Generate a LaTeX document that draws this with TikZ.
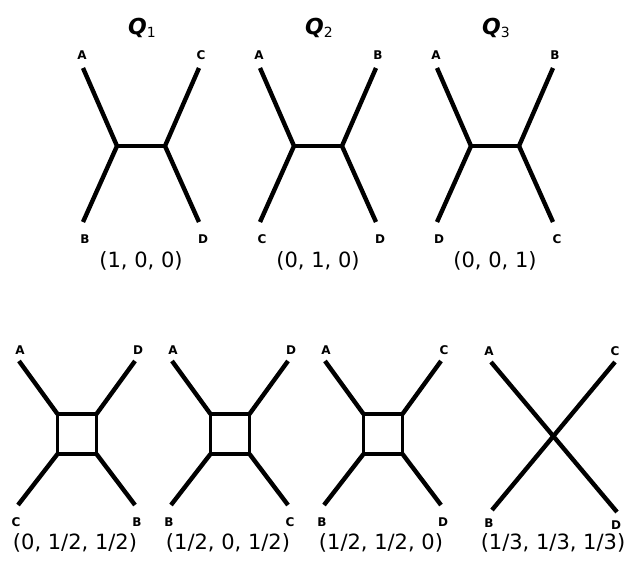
\documentclass[tikz,border=0pt]{standalone}
\usepackage{fontspec}
\setmainfont{DejaVu Sans}
\begin{document}
\begin{tikzpicture}[x=1pt,y=-1pt,
  edge/.style={line width=4.4pt},
  inedge/.style={line width=3.4pt},
  leaf/.style={font=\fontsize{12}{12}\selectfont\bfseries, inner sep=0pt},
  weight/.style={font=\fontsize{21}{21}\selectfont, inner sep=0pt},
  qtitle/.style={inner sep=0pt}]
\useasboundingbox (0,0) rectangle (634,560);

% three resolved quartet trees
\foreach \cx/\n/\tl/\tr/\bl/\br/\wt in {141/1/A/C/B/D/{(1, 0, 0)},
                                       318/2/A/B/C/D/{(0, 1, 0)},
                                       495/3/A/B/D/C/{(0, 0, 1)}}{
  \coordinate (q\n-tl) at (\cx-58,68);
  \coordinate (q\n-tr) at (\cx+58,68);
  \coordinate (q\n-bl) at (\cx-58,222);
  \coordinate (q\n-br) at (\cx+58,222);
  \coordinate (q\n-u) at (\cx-24,146);
  \coordinate (q\n-v) at (\cx+24,146);
  \draw[edge] (q\n-tl) -- (q\n-u) -- (q\n-bl);
  \draw[edge] (q\n-tr) -- (q\n-v) -- (q\n-br);
  \draw[inedge] (q\n-u) -- (q\n-v);
  \node[leaf] (q\n-ltl) at (\cx-59,55) {\tl};
  \node[leaf] (q\n-ltr) at (\cx+60,55) {\tr};
  \node[leaf] (q\n-lbl) at (\cx-56,239) {\bl};
  \node[leaf] (q\n-lbr) at (\cx+62,239) {\br};
  \node[weight] (q\n-w) at (\cx,261) {\wt};
  \node[qtitle] (q\n-t) at (\cx+1,28)
    {\fontsize{22}{22}\selectfont\bfseries\itshape Q\raisebox{-0.3ex}{\fontsize{14}{14}\selectfont\mdseries\upshape\n}};
}

% split networks with a box
\foreach \cx/\n/\tl/\tr/\bl/\br/\wt in {77/1/A/D/C/B/{(0, 1/2, 1/2)},
                                       230/2/A/D/B/C/{(1/2, 0, 1/2)},
                                       383/3/A/C/B/D/{(1/2, 1/2, 0)}}{
  \coordinate (s\n-tl) at (\cx-58,361);
  \coordinate (s\n-tr) at (\cx+58,361);
  \coordinate (s\n-bl) at (\cx-59,505);
  \coordinate (s\n-br) at (\cx+58,505);
  \coordinate (s\n-a) at (\cx-19.5,414);
  \coordinate (s\n-b) at (\cx+19.5,414);
  \coordinate (s\n-c) at (\cx+19.5,454);
  \coordinate (s\n-d) at (\cx-19.5,454);
  \draw[edge] (s\n-tl) -- (s\n-a);
  \draw[edge] (s\n-tr) -- (s\n-b);
  \draw[edge] (s\n-br) -- (s\n-c);
  \draw[edge] (s\n-bl) -- (s\n-d);
  \draw[inedge] (s\n-a) -- (s\n-b) -- (s\n-c) -- (s\n-d) -- cycle;
  \node[leaf] (s\n-ltl) at (\cx-57,350) {\tl};
  \node[leaf] (s\n-ltr) at (\cx+61,350) {\tr};
  \node[leaf] (s\n-lbl) at (\cx-61,522) {\bl};
  \node[leaf] (s\n-lbr) at (\cx+60,522) {\br};
  \node[weight] (s\n-w) at (\cx-2,543) {\wt};
}

% star tree
\coordinate (x-a) at (491,362);
\coordinate (x-c) at (615,362);
\coordinate (x-b) at (492,510);
\coordinate (x-d) at (617,512);
\draw[edge] (x-a) -- (x-d);
\draw[edge] (x-c) -- (x-b);
\node[leaf] (x-la) at (489,351) {A};
\node[leaf] (x-lc) at (615,351) {C};
\node[leaf] (x-lb) at (489,523) {B};
\node[leaf] (x-ld) at (616,525) {D};
\node[weight] (x-w) at (553,543) {(1/3, 1/3, 1/3)};
\end{tikzpicture}
\end{document}
